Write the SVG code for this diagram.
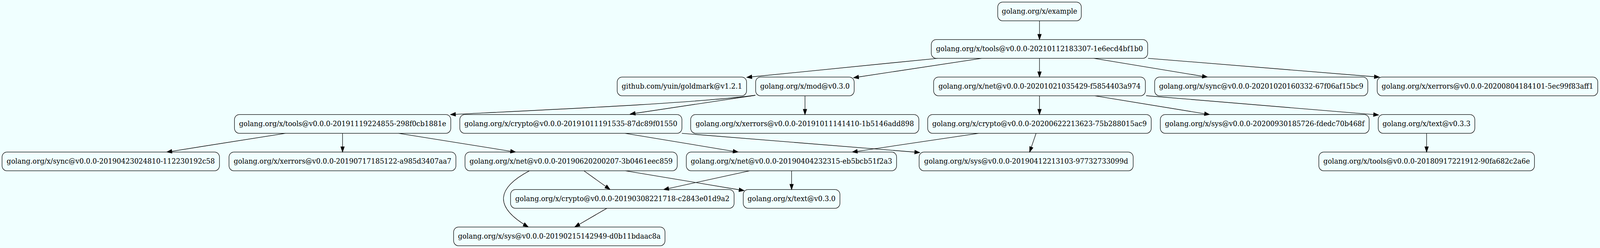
<svg xmlns="http://www.w3.org/2000/svg" width="4337" height="635" viewBox="0 0 4337 635" preserveAspectRatio="none">
<style>
svg{width:100vw;height:100vh}
.n rect{fill:none;stroke:#000;stroke-width:1.33}
.n text{font-family:"DejaVu Serif","Liberation Serif",serif;font-size:18.67px;text-anchor:middle;fill:#000}
.e path{fill:none;stroke:#000;stroke-width:1.33;marker-end:url(#ah)}
</style>
<defs>
<marker id="ah" markerUnits="userSpaceOnUse" markerWidth="16" markerHeight="12" refX="13.3" refY="4.7" orient="auto" overflow="visible">
<path d="M0,0 L13.3,4.7 L0,9.4 Z" fill="#000" stroke="#000" stroke-width="1.33"/>
</marker>
</defs>
<rect x="0" y="0" width="4337" height="635" fill="#f0ffff"/>
<g id="edges" class="e">
<path d="M2817.7,53.3 L2817.7,101.3"/>
<path d="M2542,149.3 L2024.5,198"/>
<path d="M2661,149.3 L2314,199"/>
<path d="M2817.7,149.3 L2817.7,197.3"/>
<path d="M2965,149.3 L3272.5,197.3"/>
<path d="M3112,149.3 L3738.8,197.5"/>
<path d="M2047.4,244 C1880,264 1550,278 1221.3,293.3"/>
<path d="M2047.4,244 L1708.5,292"/>
<path d="M2182,245.3 L2182,293.3"/>
<path d="M773.8,341.3 L452.5,389.3"/>
<path d="M928.5,341.3 L928.5,389.3"/>
<path d="M1080.3,341.3 L1397.2,389.3"/>
<path d="M1694,341.3 L2000.5,389.3"/>
<path d="M1848.3,341.4 L2492.8,390.5"/>
<path d="M2652.8,341.3 L2310.5,389.3"/>
<path d="M2808.5,341.3 L2791,389.3"/>
<path d="M2817.7,245.3 L2817.7,293.3"/>
<path d="M2967.8,245.3 L3278.3,293.3"/>
<path d="M3106.7,245 L3736.6,294.4"/>
<path d="M3867,341.3 L3867,389.3"/>
<path d="M1582.7,437.3 L1653.3,485"/>
<path d="M1695.4,437.3 L2016.7,488"/>
<path d="M1435,437.3 C1348.6,480.5 1335.5,528.4 1431.7,581"/>
<path d="M2032,437.3 L1799.2,485.3"/>
<path d="M2145.7,437.3 L2145.7,485.3"/>
<path d="M1645,533.3 L1558.3,581"/>
</g>
<g id="n_example" class="n"><rect x="2704.5" y="5.33" width="226.5" height="48" rx="13"/><text x="2817.7" y="34.9">golang.org/x/example</text></g>
<g id="n_tools2021" class="n"><rect x="2524.4" y="101.33" width="586.5" height="48" rx="13"/><text x="2817.7" y="130.9">golang.org/x/tools@v0.0.0-20210112183307-1e6ecd4bf1b0</text></g>
<g id="n_goldmark" class="n"><rect x="1673" y="197.33" width="350.7" height="48" rx="13"/><text x="1848.4" y="226.9">github.com/yuin/goldmark@v1.2.1</text></g>
<g id="n_mod" class="n"><rect x="2048.3" y="197.33" width="267" height="48" rx="13"/><text x="2181.9" y="226.9">golang.org/x/mod@v0.3.0</text></g>
<g id="n_net2020" class="n"><rect x="2530.7" y="197.33" width="574" height="48" rx="13"/><text x="2817.7" y="226.9">golang.org/x/net@v0.0.0-20201021035429-f5854403a974</text></g>
<g id="n_sync2020" class="n"><rect x="3129.8" y="197.33" width="577.8" height="48" rx="13"/><text x="3418.7" y="226.9">golang.org/x/sync@v0.0.0-20201020160332-67f06af15bc9</text></g>
<g id="n_xerrors2020" class="n"><rect x="3733" y="197.33" width="598" height="48" rx="13"/><text x="4032" y="226.9">golang.org/x/xerrors@v0.0.0-20200804184101-5ec99f83aff1</text></g>
<g id="n_tools2019" class="n"><rect x="635.6" y="293.33" width="586.3" height="48" rx="13"/><text x="928.75" y="322.9">golang.org/x/tools@v0.0.0-20191119224855-298f0cb1881e</text></g>
<g id="n_crypto20191011" class="n"><rect x="1246.4" y="293.33" width="602" height="48" rx="13"/><text x="1547.4" y="322.9">golang.org/x/crypto@v0.0.0-20191011191535-87dc89f01550</text></g>
<g id="n_xerrors20191011" class="n"><rect x="1872.2" y="293.33" width="618.5" height="48" rx="13"/><text x="2181.45" y="322.9">golang.org/x/xerrors@v0.0.0-20191011141410-1b5146add898</text></g>
<g id="n_crypto20200622" class="n"><rect x="2514.6" y="293.33" width="606" height="48" rx="13"/><text x="2817.7" y="322.9">golang.org/x/crypto@v0.0.0-20200622213623-75b288015ac9</text></g>
<g id="n_sys20200930" class="n"><rect x="3145.2" y="293.33" width="566" height="48" rx="13"/><text x="3428.2" y="322.9">golang.org/x/sys@v0.0.0-20200930185726-fdedc70b468f</text></g>
<g id="n_text033" class="n"><rect x="3735.9" y="293.33" width="261.8" height="48" rx="13"/><text x="3866.8" y="322.9">golang.org/x/text@v0.3.3</text></g>
<g id="n_sync2019" class="n"><rect x="5.6" y="389.33" width="589.3" height="48" rx="13"/><text x="300.25" y="418.9">golang.org/x/sync@v0.0.0-20190423024810-112230192c58</text></g>
<g id="n_xerrors2019" class="n"><rect x="620.8" y="389.33" width="615" height="48" rx="13"/><text x="928.35" y="418.9">golang.org/x/xerrors@v0.0.0-20190717185122-a985d3407aa7</text></g>
<g id="n_net20190620" class="n"><rect x="1260.5" y="389.33" width="575.2" height="48" rx="13"/><text x="1548.1" y="418.9">golang.org/x/net@v0.0.0-20190620200207-3b0461eec859</text></g>
<g id="n_net20190404" class="n"><rect x="1860.3" y="389.33" width="570" height="48" rx="13"/><text x="2145.3" y="418.9">golang.org/x/net@v0.0.0-20190404232315-eb5bcb51f2a3</text></g>
<g id="n_sys20190412" class="n"><rect x="2491.4" y="389.33" width="580.2" height="48" rx="13"/><text x="2781.5" y="418.9">golang.org/x/sys@v0.0.0-20190412213103-97732733099d</text></g>
<g id="n_tools2018" class="n"><rect x="3574.9" y="389.33" width="584.5" height="48" rx="13"/><text x="3867.15" y="418.9">golang.org/x/tools@v0.0.0-20180917221912-90fa682c2a6e</text></g>
<g id="n_crypto20190308" class="n"><rect x="1383.9" y="485.33" width="606" height="48" rx="13"/><text x="1687" y="514.9">golang.org/x/crypto@v0.0.0-20190308221718-c2843e01d9a2</text></g>
<g id="n_text030" class="n"><rect x="2014.6" y="485.33" width="262.2" height="48" rx="13"/><text x="2145.7" y="514.9">golang.org/x/text@v0.3.0</text></g>
<g id="n_sys20190215" class="n"><rect x="1229.6" y="581.33" width="573" height="48" rx="13"/><text x="1516.15" y="610.9">golang.org/x/sys@v0.0.0-20190215142949-d0b11bdaac8a</text></g>
</svg>
